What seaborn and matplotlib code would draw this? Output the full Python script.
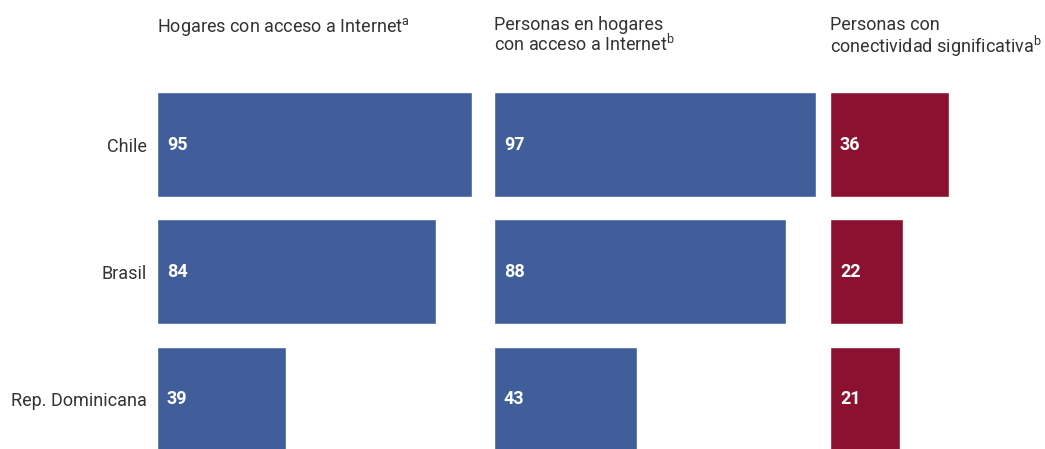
import seaborn as sns
import matplotlib.pyplot as plt
import pandas as pd

# Data
countries = ["Chile", "Brasil", "Rep. Dominicana"]
hogares = [95, 84, 39]
personas = [97, 88, 43]
conectividad = [36, 22, 21]

titles = [
    "Hogares con acceso a Internet$^{\\mathrm{a}}$",
    "Personas en hogares\ncon acceso a Internet$^{\\mathrm{b}}$",
    "Personas con\nconectividad significativa$^{\\mathrm{b}}$",
]

blue = "#405E99"
red = "#8A1230"

sns.set_style("white")
plt.rcParams["font.family"] = ["Roboto", "DejaVu Sans"]
plt.rcParams["mathtext.fontset"] = "custom"
plt.rcParams["mathtext.rm"] = "Roboto"

fig = plt.figure(figsize=(10.45, 4.49), dpi=100)

# panel positions (figure fraction)
lefts = [0.1502, 0.4727, 0.7943]
widths = [0.3177, 0.3177, 0.2057]
xmaxs = [100, 100, 64.8]
series = [hogares, personas, conectividad]
colors = [blue, blue, red]

for i in range(3):
    ax = fig.add_axes([lefts[i], 0.0, widths[i], 0.8196])
    df = pd.DataFrame({"pais": countries, "valor": series[i]})
    sns.barplot(data=df, x="valor", y="pais", orient="h", color=colors[i],
                width=0.825, saturation=1, ax=ax)
    ax.set_xlim(0, xmaxs[i])
    ax.set_ylim(2.393, -0.5)
    for j, v in enumerate(series[i]):
        ax.text(3.0, j, str(v), color="white", fontsize=13, fontweight="bold",
                va="center", ha="left")
    sns.despine(ax=ax, left=True, bottom=True)
    ax.set_xticks([])
    ax.set_xlabel("")
    ax.set_ylabel("")
    if i == 0:
        ax.tick_params(axis="y", length=0, pad=7, labelsize=13, labelcolor="#333333")
    else:
        ax.set_yticks([])
    fig.text(lefts[i], 0.965, titles[i], fontsize=13, color="#333333",
             va="top", ha="left", linespacing=1.0)

fig.savefig("out.png", dpi=100)
